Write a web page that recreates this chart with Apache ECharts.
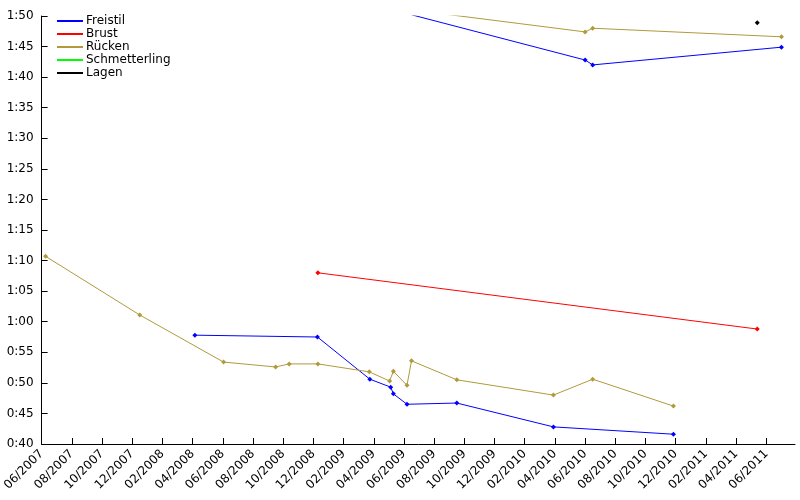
<!DOCTYPE html>
<html><head><meta charset="utf-8">
<script src="https://cdn.jsdelivr.net/npm/echarts@6/dist/echarts.min.js"></script>
<style>body{margin:0}#main{width:800px;height:500px}</style>
</head><body><div id="main"></div>
<script>
var myChart = echarts.init(document.getElementById('main'));

// x: months since 06/2007, y: seconds
var freistilA = [[10.15,57.8],[18.27,57.5],[21.74,50.6],[23.12,49.3],[23.3,48.2],[24.2,46.5],[27.5,46.7],[33.9,42.8],[41.85,41.6]];
var freistilB = [[24.5,110.2],[36.0,102.8],[36.5,102.0],[49.0,104.9]];
var rueckenA = [[0.26,70.7],[6.5,61.1],[12.05,53.4],[15.5,52.6],[16.4,53.1],[18.3,53.1],[21.7,51.8],[23.05,50.3],[23.3,51.9],[24.2,49.6],[24.5,53.6],[27.5,50.5],[33.9,48.0],[36.5,50.6],[41.85,46.2]];
var rueckenB = [[24.5,111.0],[36.0,107.4],[36.5,108.0],[49.0,106.6]];
var brust = [[18.3,68.0],[47.4,58.8]];
var lagen = [[47.4,108.9]];
var schmetterling = [];

function mmss(v){ var m=Math.floor(v/60), s=Math.round(v%60); return m+':'+(s<10?'0':'')+s; }
function monthLabel(v){ var t=5+v; var y=2007+Math.floor(t/12); var m=t%12+1; return (m<10?'0':'')+m+'/'+y; }

function ser(name, data, color){
  return {name:name, type:'line', data:data, symbol:'diamond', symbolSize:5,
    lineStyle:{color:color,width:1}, itemStyle:{color:color}, emphasis:{disabled:true}};
}

myChart.setOption({
  animation:false,
  textStyle:{fontFamily:'DejaVu Sans'},
  grid:{left:40,right:5,top:16,bottom:56},
  legend:{orient:'vertical',left:52,top:10,itemWidth:26,itemHeight:2,itemGap:1,icon:'rect',
    textStyle:{fontSize:12,color:'#000',padding:[0,0,0,-2]},
    data:['Freistil','Brust','Rücken','Schmetterling','Lagen']},
  xAxis:{type:'value',min:0,max:49.9,interval:2,
    axisLine:{lineStyle:{color:'#000'}},axisTick:{inside:true,length:6,lineStyle:{color:'#000'}},
    splitLine:{show:false},
    axisLabel:{rotate:45,color:'#000',fontSize:12,formatter:function(v){return monthLabel(v);},showMaxLabel:false}},
  yAxis:{type:'value',min:40,max:110,interval:5,
    axisLine:{show:true,lineStyle:{color:'#000'}},axisTick:{show:true,inside:true,length:6,lineStyle:{color:'#000'}},
    splitLine:{show:false},
    axisLabel:{color:'#000',fontSize:12,formatter:mmss}},
  series:[
    ser('Freistil',freistilA,'#0000ff'),
    ser('Freistil',freistilB,'#0000ff'),
    ser('Brust',brust,'#ff0000'),
    ser('Rücken',rueckenA,'#b09a3c'),
    ser('Rücken',rueckenB,'#b09a3c'),
    ser('Schmetterling',schmetterling,'#00ff00'),
    ser('Lagen',lagen,'#000000')
  ]
});
</script></body></html>
